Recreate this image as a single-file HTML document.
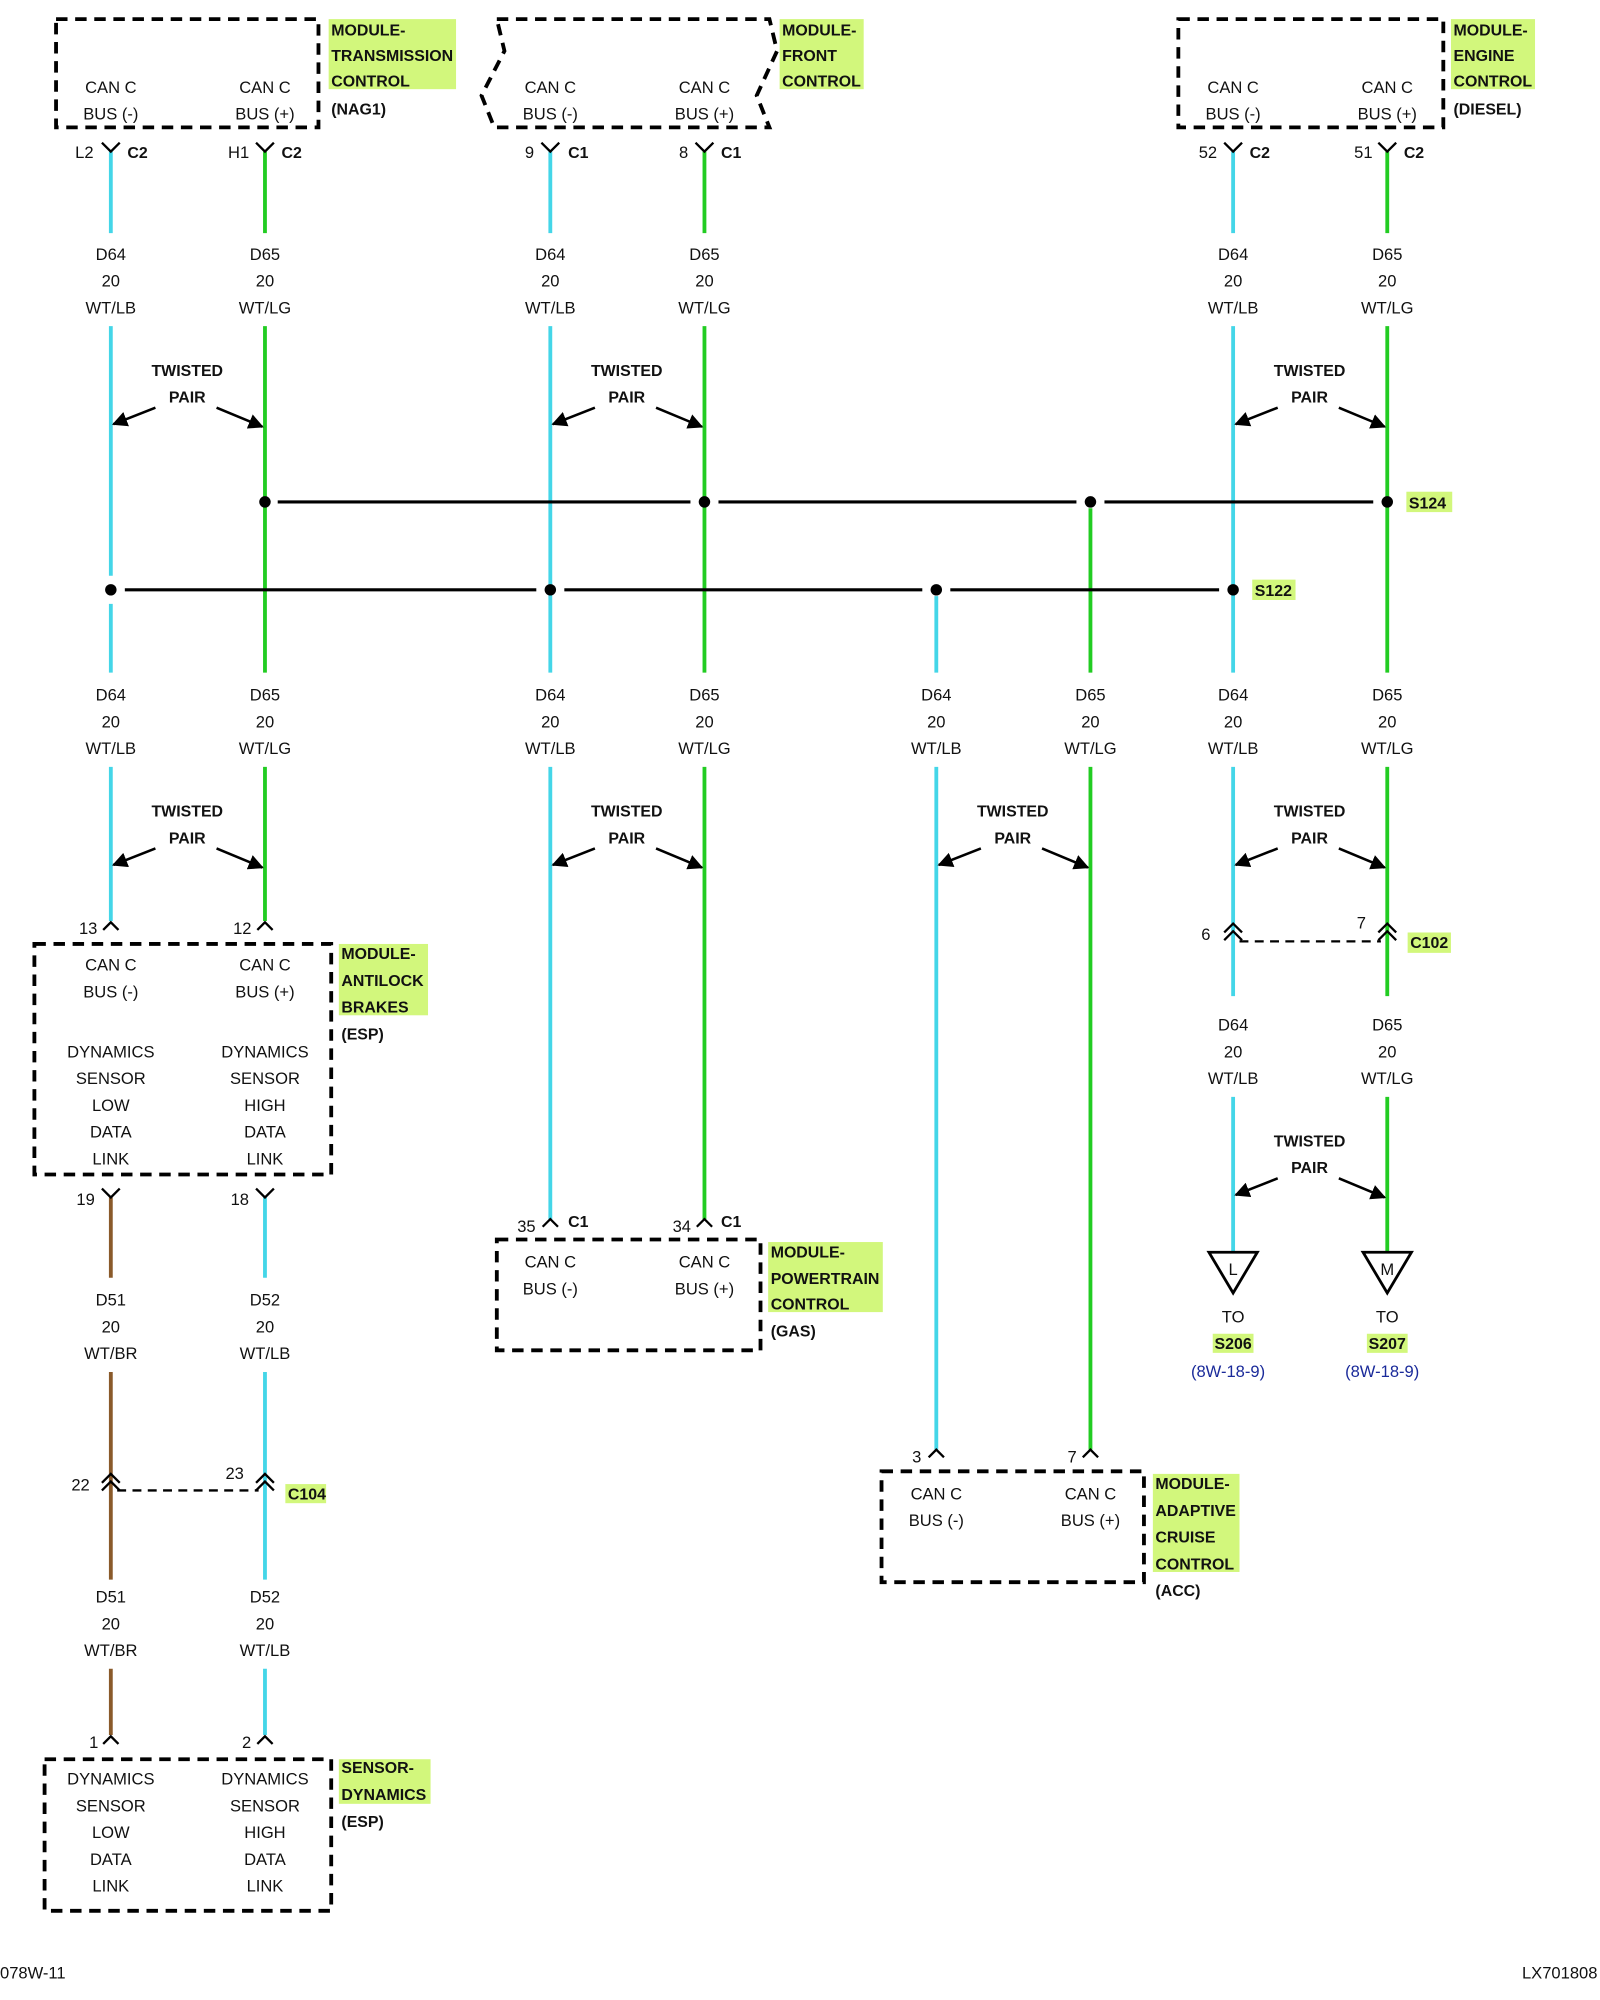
<!DOCTYPE html>
<html><head><meta charset="utf-8"><style>
html,body{margin:0;padding:0;background:#fff;}
svg{display:block;}
text{font-family:"Liberation Sans",Arial,sans-serif;font-size:13px;fill:#111;}
.c{text-anchor:middle;}
.b{font-weight:bold;font-size:12.5px;}
.cy{stroke:#44d6e8;stroke-width:3;fill:none;}
.gr{stroke:#22cc22;stroke-width:3;fill:none;}
.br{stroke:#8a5a2a;stroke-width:3;fill:none;}
.box{stroke:#000;stroke-width:3;fill:none;stroke-dasharray:9 6;}
.k{stroke:#000;stroke-width:1.8;fill:none;}
.bus{stroke:#000;stroke-width:2.5;}
.hl{fill:#d2f77c;}
.bl{fill:#1a2a9a;}
</style></head><body>
<svg width="1600" height="2000" viewBox="0 0 1256 1570" preserveAspectRatio="none" xmlns="http://www.w3.org/2000/svg">
<defs><marker id="ah" viewBox="0 0 10 10" refX="9" refY="5" markerWidth="6" markerHeight="6" orient="auto"><path d="M0,0 L10,5 L0,10 z" fill="#000"/></marker></defs>

<rect class="hl" x="258" y="15" width="100" height="55"/>
<rect class="hl" x="612" y="15" width="66" height="55"/>
<rect class="hl" x="1139" y="15" width="66" height="55"/>
<rect class="hl" x="266" y="741" width="70" height="56"/>
<rect class="hl" x="603" y="975" width="90" height="55"/>
<rect class="hl" x="905" y="1157" width="68" height="77"/>
<rect class="hl" x="266" y="1381" width="72" height="35"/>
<rect class="hl" x="1104" y="386" width="36" height="16"/>
<rect class="hl" x="983" y="455" width="34" height="16"/>
<rect class="hl" x="1105" y="732" width="34" height="16"/>
<rect class="hl" x="224" y="1165" width="32" height="15"/>
<rect class="hl" x="952" y="1047" width="32" height="15"/>
<rect class="hl" x="1073" y="1047" width="32" height="15"/>

<path class="cy" d="M87 119V183M87 256V452M87 474V528M87 602V723"/>
<path class="gr" d="M208 119V183M208 256V528M208 602V723"/>
<path class="cy" d="M432 119V183M432 256V528M432 602V957"/>
<path class="gr" d="M553 119V183M553 256V528M553 602V957"/>
<path class="cy" d="M735 468V528M735 602V1138"/>
<path class="gr" d="M856 399V528M856 602V1138"/>
<path class="cy" d="M968 119V183M968 256V528M968 602V782M968 861V983"/>
<path class="gr" d="M1089 119V183M1089 256V528M1089 602V782M1089 861V983"/>
<path class="br" d="M87 940V1003M87 1077V1240M87 1310V1362"/>
<path class="cy" d="M208 940V1003M208 1077V1240M208 1310V1362"/>

<path class="bus" d="M218 394H542M564 394H845M867 394H1078"/>
<path class="bus" d="M98 463H421M443 463H724M746 463H957"/>
<g fill="#000">
<circle cx="208" cy="394" r="4.5"/><circle cx="553" cy="394" r="4.5"/><circle cx="856" cy="394" r="4.5"/><circle cx="1089" cy="394" r="4.5"/>
<circle cx="87" cy="463" r="4.5"/><circle cx="432" cy="463" r="4.5"/><circle cx="735" cy="463" r="4.5"/><circle cx="968" cy="463" r="4.5"/>
</g>
<text class="b" x="1106" y="399">S124</text>
<text class="b" x="985" y="468">S122</text>

<rect class="box" x="44" y="15" width="206" height="85"/>
<path class="box" d="M390 15H604L610 40L594 75L604 100H388L378 75L396 40Z"/>
<rect class="box" x="925" y="15" width="208" height="85"/>
<g class="c">
<text x="87" y="73">CAN C</text><text x="87" y="94">BUS (-)</text>
<text x="208" y="73">CAN C</text><text x="208" y="94">BUS (+)</text>
<text x="432" y="73">CAN C</text><text x="432" y="94">BUS (-)</text>
<text x="553" y="73">CAN C</text><text x="553" y="94">BUS (+)</text>
<text x="968" y="73">CAN C</text><text x="968" y="94">BUS (-)</text>
<text x="1089" y="73">CAN C</text><text x="1089" y="94">BUS (+)</text>
</g>
<text class="b" x="260" y="28">MODULE-</text><text class="b" x="260" y="48">TRANSMISSION</text><text class="b" x="260" y="68">CONTROL</text><text class="b" x="260" y="90">(NAG1)</text>
<text class="b" x="614" y="28">MODULE-</text><text class="b" x="614" y="48">FRONT</text><text class="b" x="614" y="68">CONTROL</text>
<text class="b" x="1141" y="28">MODULE-</text><text class="b" x="1141" y="48">ENGINE</text><text class="b" x="1141" y="68">CONTROL</text><text class="b" x="1141" y="90">(DIESEL)</text>
<path class="k" d="M80 112L87 119L94 112M201 112L208 119L215 112M425 112L432 119L439 112M546 112L553 119L560 112M961 112L968 119L975 112M1082 112L1089 119L1096 112"/>
<text x="59" y="124">L2</text><text class="b" x="100" y="124">C2</text>
<text x="179" y="124">H1</text><text class="b" x="221" y="124">C2</text>
<text x="412" y="124">9</text><text class="b" x="446" y="124">C1</text>
<text x="533" y="124">8</text><text class="b" x="566" y="124">C1</text>
<text x="941" y="124">52</text><text class="b" x="981" y="124">C2</text>
<text x="1063" y="124">51</text><text class="b" x="1102" y="124">C2</text>

<g class="c">
<text x="87" y="204">D64</text><text x="87" y="225">20</text><text x="87" y="246">WT/LB</text>
<text x="208" y="204">D65</text><text x="208" y="225">20</text><text x="208" y="246">WT/LG</text>
<text x="432" y="204">D64</text><text x="432" y="225">20</text><text x="432" y="246">WT/LB</text>
<text x="553" y="204">D65</text><text x="553" y="225">20</text><text x="553" y="246">WT/LG</text>
<text x="968" y="204">D64</text><text x="968" y="225">20</text><text x="968" y="246">WT/LB</text>
<text x="1089" y="204">D65</text><text x="1089" y="225">20</text><text x="1089" y="246">WT/LG</text>

<text x="87" y="550">D64</text><text x="87" y="571">20</text><text x="87" y="592">WT/LB</text>
<text x="208" y="550">D65</text><text x="208" y="571">20</text><text x="208" y="592">WT/LG</text>
<text x="432" y="550">D64</text><text x="432" y="571">20</text><text x="432" y="592">WT/LB</text>
<text x="553" y="550">D65</text><text x="553" y="571">20</text><text x="553" y="592">WT/LG</text>
<text x="735" y="550">D64</text><text x="735" y="571">20</text><text x="735" y="592">WT/LB</text>
<text x="856" y="550">D65</text><text x="856" y="571">20</text><text x="856" y="592">WT/LG</text>
<text x="968" y="550">D64</text><text x="968" y="571">20</text><text x="968" y="592">WT/LB</text>
<text x="1089" y="550">D65</text><text x="1089" y="571">20</text><text x="1089" y="592">WT/LG</text>

<text x="968" y="809">D64</text><text x="968" y="830">20</text><text x="968" y="851">WT/LB</text>
<text x="1089" y="809">D65</text><text x="1089" y="830">20</text><text x="1089" y="851">WT/LG</text>

<text x="87" y="1025">D51</text><text x="87" y="1046">20</text><text x="87" y="1067">WT/BR</text>
<text x="208" y="1025">D52</text><text x="208" y="1046">20</text><text x="208" y="1067">WT/LB</text>
<text x="87" y="1258">D51</text><text x="87" y="1279">20</text><text x="87" y="1300">WT/BR</text>
<text x="208" y="1258">D52</text><text x="208" y="1279">20</text><text x="208" y="1300">WT/LB</text>
</g>

<g class="c">
<text class="b" x="147" y="295">TWISTED</text><text class="b" x="147" y="316">PAIR</text>
<text class="b" x="492" y="295">TWISTED</text><text class="b" x="492" y="316">PAIR</text>
<text class="b" x="1028" y="295">TWISTED</text><text class="b" x="1028" y="316">PAIR</text>
<text class="b" x="147" y="641">TWISTED</text><text class="b" x="147" y="662">PAIR</text>
<text class="b" x="492" y="641">TWISTED</text><text class="b" x="492" y="662">PAIR</text>
<text class="b" x="795" y="641">TWISTED</text><text class="b" x="795" y="662">PAIR</text>
<text class="b" x="1028" y="641">TWISTED</text><text class="b" x="1028" y="662">PAIR</text>
<text class="b" x="1028" y="900">TWISTED</text><text class="b" x="1028" y="921">PAIR</text>
</g>
<g stroke="#000" stroke-width="2" marker-end="url(#ah)">
<line x1="122" y1="320" x2="89" y2="333"/><line x1="170" y1="320" x2="206" y2="335"/>
<line x1="467" y1="320" x2="434" y2="333"/><line x1="515" y1="320" x2="551" y2="335"/>
<line x1="1003" y1="320" x2="970" y2="333"/><line x1="1051" y1="320" x2="1087" y2="335"/>
<line x1="122" y1="666" x2="89" y2="679"/><line x1="170" y1="666" x2="206" y2="681"/>
<line x1="467" y1="666" x2="434" y2="679"/><line x1="515" y1="666" x2="551" y2="681"/>
<line x1="770" y1="666" x2="737" y2="679"/><line x1="818" y1="666" x2="854" y2="681"/>
<line x1="1003" y1="666" x2="970" y2="679"/><line x1="1051" y1="666" x2="1087" y2="681"/>
<line x1="1003" y1="925" x2="970" y2="938"/><line x1="1051" y1="925" x2="1087" y2="940"/>
</g>

<path class="k" d="M81 730L87 724L93 730M202 730L208 724L214 730"/>
<text x="62" y="733">13</text><text x="183" y="733">12</text>
<rect class="box" x="27" y="741" width="233" height="181"/>
<g class="c">
<text x="87" y="762">CAN C</text><text x="87" y="783">BUS (-)</text>
<text x="208" y="762">CAN C</text><text x="208" y="783">BUS (+)</text>
<text x="87" y="830">DYNAMICS</text><text x="87" y="851">SENSOR</text><text x="87" y="872">LOW</text><text x="87" y="893">DATA</text><text x="87" y="914">LINK</text>
<text x="208" y="830">DYNAMICS</text><text x="208" y="851">SENSOR</text><text x="208" y="872">HIGH</text><text x="208" y="893">DATA</text><text x="208" y="914">LINK</text>
</g>
<text class="b" x="268" y="753">MODULE-</text><text class="b" x="268" y="774">ANTILOCK</text><text class="b" x="268" y="795">BRAKES</text><text class="b" x="268" y="816">(ESP)</text>
<path class="k" d="M80 933L87 940L94 933M201 933L208 940L215 933"/>
<text x="60" y="946">19</text><text x="181" y="946">18</text>

<path class="k" stroke-width="2.5" d="M80 1164L87 1157L94 1164M80 1170L87 1163L94 1170M201 1164L208 1157L215 1164M201 1170L208 1163L215 1170"/>
<path class="k" stroke-dasharray="7 5" d="M92 1170H203"/>
<text x="56" y="1170">22</text><text x="177" y="1161">23</text><text class="b" x="226" y="1177">C104</text>

<path class="k" d="M81 1369L87 1363L93 1369M202 1369L208 1363L214 1369"/>
<text x="70" y="1372">1</text><text x="190" y="1372">2</text>
<rect class="box" x="35" y="1381" width="225" height="119"/>
<g class="c">
<text x="87" y="1401">DYNAMICS</text><text x="87" y="1422">SENSOR</text><text x="87" y="1443">LOW</text><text x="87" y="1464">DATA</text><text x="87" y="1485">LINK</text>
<text x="208" y="1401">DYNAMICS</text><text x="208" y="1422">SENSOR</text><text x="208" y="1443">HIGH</text><text x="208" y="1464">DATA</text><text x="208" y="1485">LINK</text>
</g>
<text class="b" x="268" y="1392">SENSOR-</text><text class="b" x="268" y="1413">DYNAMICS</text><text class="b" x="268" y="1434">(ESP)</text>

<path class="k" d="M426 963L432 957L438 963M547 963L553 957L559 963"/>
<text x="406" y="967">35</text><text class="b" x="446" y="963">C1</text>
<text x="528" y="967">34</text><text class="b" x="566" y="963">C1</text>
<rect class="box" x="390" y="973" width="207" height="87"/>
<g class="c"><text x="432" y="995">CAN C</text><text x="432" y="1016">BUS (-)</text><text x="553" y="995">CAN C</text><text x="553" y="1016">BUS (+)</text></g>
<text class="b" x="605" y="987">MODULE-</text><text class="b" x="605" y="1008">POWERTRAIN</text><text class="b" x="605" y="1028">CONTROL</text><text class="b" x="605" y="1049">(GAS)</text>

<path class="k" d="M729 1144L735 1138L741 1144M850 1144L856 1138L862 1144"/>
<text x="716" y="1148">3</text><text x="838" y="1148">7</text>
<rect class="box" x="692" y="1155" width="206" height="87"/>
<g class="c"><text x="735" y="1177">CAN C</text><text x="735" y="1198">BUS (-)</text><text x="856" y="1177">CAN C</text><text x="856" y="1198">BUS (+)</text></g>
<text class="b" x="907" y="1169">MODULE-</text><text class="b" x="907" y="1190">ADAPTIVE</text><text class="b" x="907" y="1211">CRUISE</text><text class="b" x="907" y="1232">CONTROL</text><text class="b" x="907" y="1253">(ACC)</text>

<path class="k" stroke-width="2.5" d="M961 732L968 725L975 732M961 738L968 731L975 738M1082 732L1089 725L1096 732M1082 738L1089 731L1096 738"/>
<path class="k" stroke-dasharray="7 5" d="M973 739H1084"/>
<text x="943" y="738">6</text><text x="1065" y="729">7</text><text class="b" x="1107" y="744">C102</text>

<path d="M949 983H987L968 1015Z" fill="#fff" stroke="#000" stroke-width="2.2"/>
<path d="M1070 983H1108L1089 1015Z" fill="#fff" stroke="#000" stroke-width="2.2"/>
<g class="c">
<text x="968" y="1001">L</text><text x="1089" y="1001">M</text>
<text x="968" y="1038">TO</text><text x="1089" y="1038">TO</text>
<text class="b" x="968" y="1059">S206</text><text class="b" x="1089" y="1059">S207</text>
<text class="bl" x="964" y="1081">(8W-18-9)</text><text class="bl" x="1085" y="1081">(8W-18-9)</text>
</g>

<text x="0" y="1553">078W-11</text>
<text x="1254" y="1553" text-anchor="end">LX701808</text>
</svg>
</body></html>
